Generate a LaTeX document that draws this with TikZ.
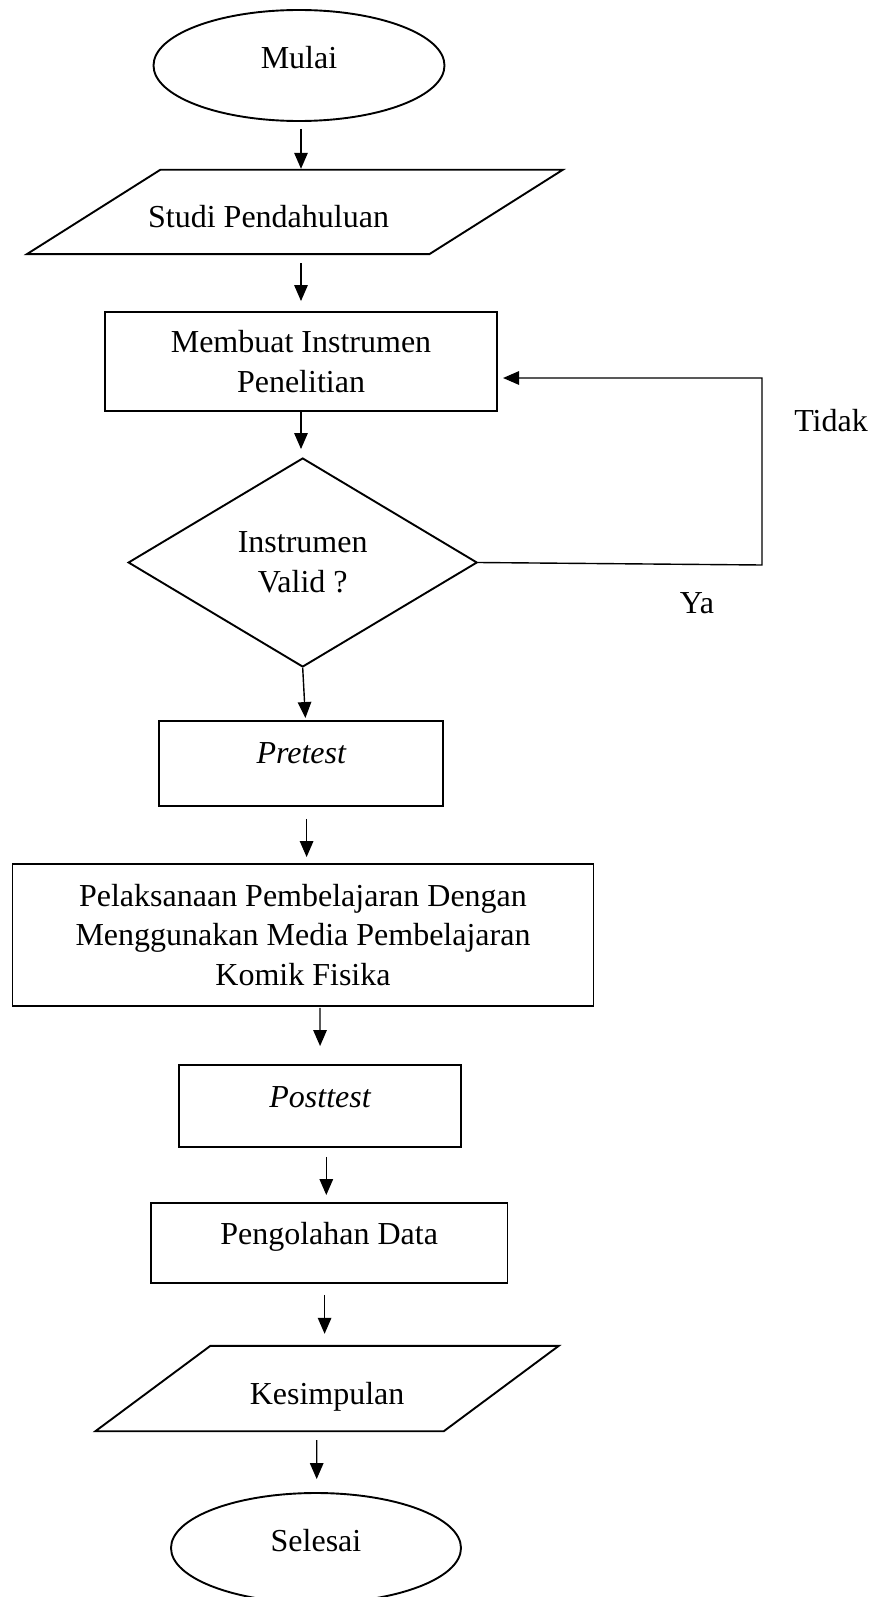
\documentclass[tikz,border=0pt]{standalone}
\usepackage{fontspec}
\setmainfont{Liberation Serif}
\usetikzlibrary{shapes.geometric,arrows.meta}
\begin{document}
\begin{tikzpicture}[x=1pt,y=-1pt,
  font=\fontsize{32}{39.5}\selectfont,
  box/.style={draw, line width=1.9pt, rectangle, inner sep=0pt, align=center},
  oval/.style={draw, line width=1.9pt, ellipse, inner sep=0pt},
  decide/.style={draw, line width=1.9pt, diamond, shape aspect=1.67, inner sep=0pt, align=center},
  slant/.style={rectangle, inner sep=0pt},
  slantline/.style={line width=1.9pt},
  arr/.style={line width=1.4pt, -{Triangle[length=16pt,width=13.5pt]}},
  lbl/.style={inner sep=0pt}]
\fill[white] (0,0) rectangle (883,1597);
\useasboundingbox (0,0) rectangle (883,1597);

\node[oval, minimum width=291pt, minimum height=111pt, label={[yshift=8pt]center:Mulai}] (mulai) at (299,65.5) {};

\node[slant, minimum width=535.6pt, minimum height=84pt, label={[xshift=-26.2pt,yshift=-5pt]center:Studi Pendahuluan}] (studi) at (294.8,212) {};
\draw[slantline] ([xshift=133.5pt]studi.north west) -- (studi.north east) -- ([xshift=-133.5pt]studi.south east) -- (studi.south west) -- cycle;

\node[box, minimum width=391.6pt, minimum height=99pt] (membuat) at (301,361.5) {Membuat Instrumen\\Penelitian};

\node[decide, minimum width=349pt, minimum height=209pt] (valid) at (302.7,562.5) {Instrumen\\Valid ?};

\node[box, minimum width=284pt, minimum height=85pt, label={[yshift=10.5pt]center:\itshape Pretest}] (pretest) at (301.3,763.5) {};

\node[box, minimum width=581pt, minimum height=142pt] (pelak) at (303,935) {Pelaksanaan Pembelajaran Dengan\\Menggunakan Media Pembelajaran\\Komik Fisika};

\node[box, minimum width=282.4pt, minimum height=82pt, label={[yshift=9pt]center:\itshape Posttest}] (posttest) at (320.1,1106) {};

\node[box, minimum width=356.7pt, minimum height=80pt, label={[yshift=6pt]center:Pengolahan Data}] (olah) at (329.1,1243) {};

\node[slant, minimum width=463pt, minimum height=85pt, label={[yshift=-8pt]center:Kesimpulan}] (simpul) at (327.1,1388.5) {};
\draw[slantline] ([xshift=115pt]simpul.north west) -- (simpul.north east) -- ([xshift=-115pt]simpul.south east) -- (simpul.south west) -- cycle;

\node[oval, minimum width=290pt, minimum height=110pt, label={[yshift=7pt]center:Selesai}] (selesai) at (316,1548) {};

\node[lbl] (tidak) at (831,421) {Tidak};
\node[lbl] (ya) at (697,603) {Ya};

\draw[arr, shorten <=7pt, shorten >=1pt] ([xshift=2pt]mulai.south) -- ([xshift=6.2pt]studi.north);
\draw[arr, shorten <=9pt, shorten >=10pt] ([xshift=6.2pt]studi.south) -- (membuat.north);
\draw[arr, shorten >=8pt] (membuat.south) -- ([xshift=-1.7pt]valid.north);
\draw[arr, shorten >=2pt] (valid.south) -- ([xshift=4.2pt]pretest.north);
\draw[arr, shorten <=12pt, shorten >=6pt] ([xshift=5.3pt]pretest.south) -- ([xshift=3.6pt]pelak.north);
\draw[arr, shorten <=1pt, shorten >=18pt] ([xshift=17pt]pelak.south) -- (posttest.north);
\draw[arr, shorten <=9pt, shorten >=7pt] ([xshift=6.2pt]posttest.south) -- ([xshift=-2.8pt]olah.north);
\draw[arr, shorten <=11pt, shorten >=12pt] ([xshift=-4.5pt]olah.south) -- ([xshift=-2.5pt]simpul.north);
\draw[arr, shorten <=9pt, shorten >=13pt] ([xshift=-10.4pt]simpul.south) -- ([xshift=0.7pt]selesai.north);

\coordinate (corner) at (762,565);
\draw[arr] (valid.east) -- (corner) |- ([xshift=5.3pt,yshift=-16.5pt]membuat.east);
\end{tikzpicture}
\end{document}
